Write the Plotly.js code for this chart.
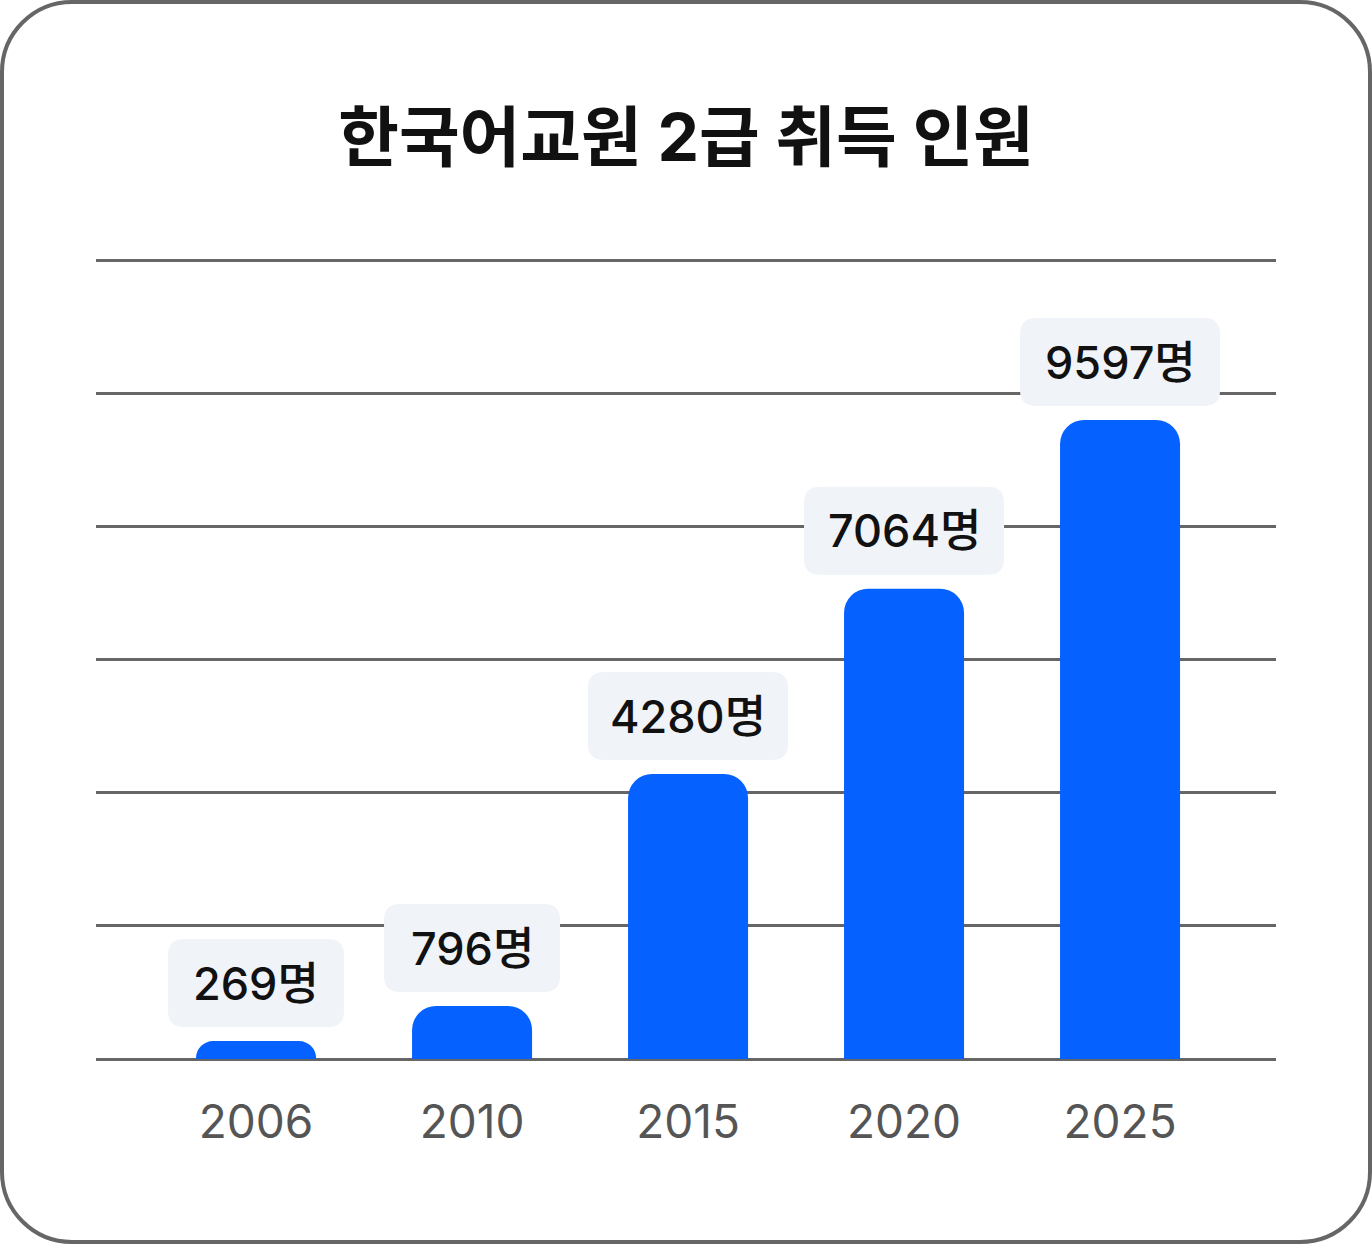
<!DOCTYPE html>
<html>
<head>
<meta charset="utf-8">
<script src="https://cdn.plot.ly/plotly-3.0.1.min.js"></script>
<style>
  html, body { margin: 0; padding: 0; background: #ffffff; }
  #wrap { position: relative; width: 1372px; height: 1244px; }
  #chart { position: absolute; left: 0; top: 0; width: 1372px; height: 1244px; }
  #frame { position: absolute; left: 0; top: 0; width: 1372px; height: 1244px; box-sizing: border-box;
           border: 4px solid #666666; border-radius: 72px; pointer-events: none; }
</style>
</head>
<body>
<div id="wrap"><div id="chart"></div><div id="frame"></div></div>
<script>
// ---- data ----
const years = ['2006', '2010', '2015', '2020', '2025'];
const counts = [269, 796, 4280, 7064, 9597];
const unit = '명';
const chartTitle = '한국어교원 2급 취득 인원';

// ---- styling ----
const idx = years.map((_, i) => i);
const barColor = '#0561FF';
const boxColor = '#F0F3F8';
const gridColor = '#666666';
const latin = "Inter, 'Noto Sans CJK KR', sans-serif";

function roundedRectPath(w, h, r, gap) {
  // pixel path relative to anchor (positive y is up)
  const x0 = -w / 2, x1 = w / 2, y0 = gap, y1 = gap + h;
  return `M ${x0 + r},${y0} L ${x1 - r},${y0} Q ${x1},${y0} ${x1},${y0 + r} ` +
         `L ${x1},${y1 - r} Q ${x1},${y1} ${x1 - r},${y1} L ${x0 + r},${y1} ` +
         `Q ${x0},${y1} ${x0},${y1 - r} L ${x0},${y0 + r} Q ${x0},${y0} ${x0 + r},${y0} Z`;
}

const labels = counts.map(v => v + unit);
const boxH = 88, boxGap = 14;

const shapes = counts.map((v, i) => ({
  type: 'path',
  xref: 'x', yref: 'y',
  xsizemode: 'pixel', ysizemode: 'pixel',
  xanchor: idx[i], yanchor: v,
  path: roundedRectPath(104 + 24 * String(v).length, boxH, 16, boxGap),
  fillcolor: boxColor,
  line: { width: 0 },
  layer: 'above'
}));

const annotations = counts.map((v, i) => ({
  x: idx[i], y: v, xref: 'x', yref: 'y',
  text: labels[i], showarrow: false,
  yanchor: 'middle', xanchor: 'center',
  yshift: boxGap + boxH / 2,
  font: { family: latin, size: 45, color: '#111111', weight: 500 }
}));

const trace = {
  type: 'bar',
  x: idx,
  y: counts,
  width: 0.5556,
  marker: { color: barColor, cornerradius: 24, line: { width: 0 } },
  hoverinfo: 'skip'
};

const layout = {
  width: 1372, height: 1244,
  margin: { l: 96, r: 96, t: 257, b: 185 },
  paper_bgcolor: 'rgba(0,0,0,0)',
  plot_bgcolor: 'rgba(0,0,0,0)',
  showlegend: false,
  title: {
    text: chartTitle,
    x: 0.5, xanchor: 'center',
    yref: 'container', y: 1 - 138 / 1244, yanchor: 'middle',
    font: { family: latin, size: 66, color: '#111111', weight: 'bold' }
  },
  xaxis: {
    type: 'linear',
    range: [-0.741, 4.722],
    tickvals: idx, ticktext: years,
    showgrid: false, zeroline: false, showline: false,
    ticks: '', ticklabelstandoff: 32,
    tickfont: { family: latin, size: 46, color: '#555555' },
    fixedrange: true
  },
  yaxis: {
    range: [0, 12045],
    dtick: 2000, tick0: 0,
    showgrid: true, gridcolor: gridColor, gridwidth: 3,
    zeroline: true, zerolinecolor: gridColor, zerolinewidth: 3,
    showticklabels: false, ticks: '', showline: false,
    fixedrange: true
  },
  shapes: shapes,
  annotations: annotations
};

Plotly.newPlot('chart', [trace], layout, { staticPlot: true, displayModeBar: false });
</script>
</body>
</html>
